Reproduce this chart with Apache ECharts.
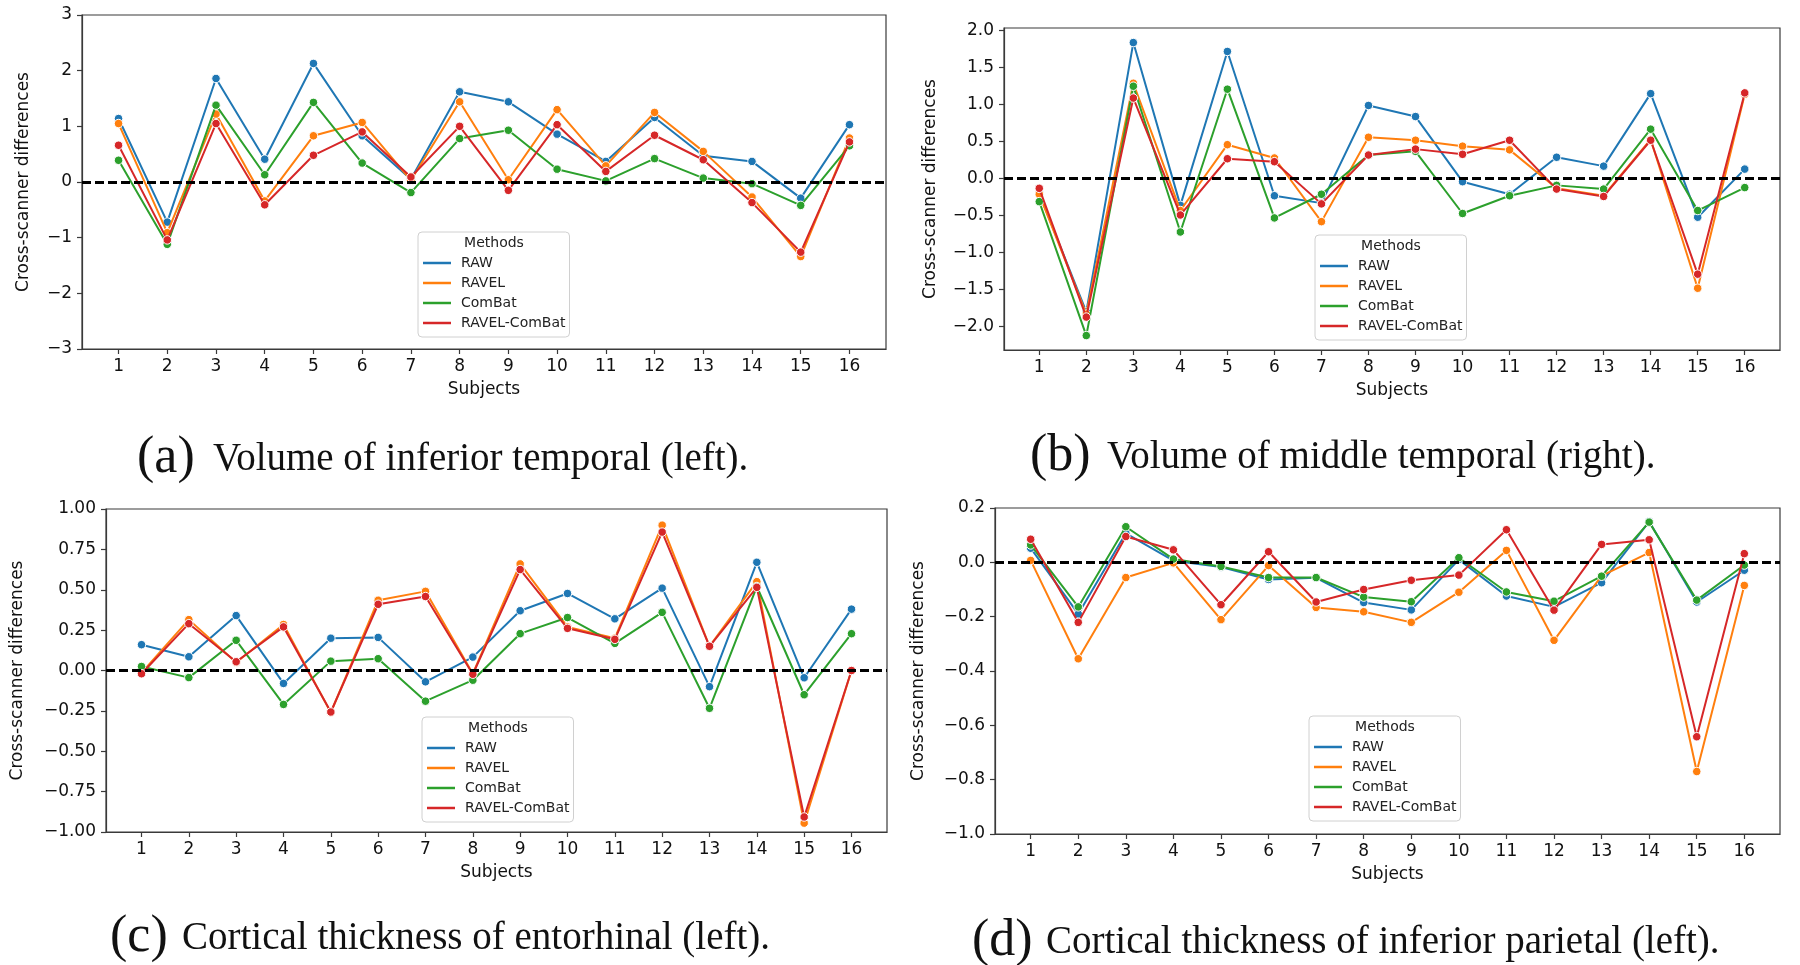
<!DOCTYPE html>
<html>
<head>
<meta charset="utf-8">
<script src="https://cdn.jsdelivr.net/npm/echarts@6/dist/echarts.min.js"></script>
<style>
html,body{margin:0;padding:0;background:#fff;}
#chart{width:1800px;height:965px;}
</style>
</head>
<body>
<div id="chart"></div>
<script>
// ---------- data ----------
const subjects = [1,2,3,4,5,6,7,8,9,10,11,12,13,14,15,16];
const methods = ['RAW','RAVEL','ComBat','RAVEL-ComBat'];
const colors = ['#1f77b4','#ff7f0e','#2ca02c','#d62728'];

// (a) Volume of inferior temporal (left)
const a_RAW         = [1.14,-0.72,1.86,0.41,2.13,0.83,0.05,1.62,1.44,0.86,0.37,1.16,0.47,0.37,-0.29,1.03];
const a_RAVEL       = [1.05,-0.91,1.22,-0.34,0.83,1.07,0.03,1.44,0.04,1.30,0.29,1.25,0.55,-0.27,-1.34,0.79];
const a_ComBat      = [0.39,-1.12,1.38,0.13,1.43,0.34,-0.19,0.78,0.93,0.23,0.02,0.42,0.07,-0.03,-0.42,0.65];
const a_RAVELComBat = [0.66,-1.04,1.05,-0.41,0.48,0.90,0.09,1.00,-0.15,1.03,0.19,0.84,0.40,-0.37,-1.26,0.72];
const a_ticks = [-3,-2,-1,0,1,2,3];

// (b) Volume of middle temporal (right)
const b_RAW         = [-0.20,-1.80,1.84,-0.36,1.72,-0.23,-0.33,0.99,0.84,-0.04,-0.21,0.29,0.17,1.15,-0.52,0.13];
const b_RAVEL       = [-0.21,-1.83,1.29,-0.43,0.46,0.28,-0.58,0.56,0.52,0.44,0.39,-0.13,-0.23,0.53,-1.48,1.14];
const b_ComBat      = [-0.31,-2.12,1.25,-0.72,1.21,-0.53,-0.21,0.32,0.37,-0.47,-0.23,-0.09,-0.14,0.67,-0.43,-0.12];
const b_RAVELComBat = [-0.13,-1.87,1.09,-0.49,0.27,0.23,-0.34,0.32,0.40,0.33,0.52,-0.14,-0.24,0.52,-1.29,1.16];
const b_ticks = [-2.0,-1.5,-1.0,-0.5,0.0,0.5,1.0,1.5,2.0];

// (c) Cortical thickness of entorhinal (left)
const c_RAW         = [0.16,0.085,0.34,-0.08,0.20,0.205,-0.07,0.083,0.37,0.477,0.32,0.51,-0.10,0.67,-0.045,0.38];
const c_RAVEL       = [-0.015,0.315,0.05,0.285,-0.26,0.435,0.49,-0.02,0.66,0.27,0.20,0.90,0.15,0.55,-0.945,0.0];
const c_ComBat      = [0.025,-0.044,0.187,-0.21,0.058,0.073,-0.19,-0.06,0.228,0.328,0.168,0.36,-0.234,0.52,-0.15,0.228];
const c_RAVELComBat = [-0.02,0.29,0.054,0.27,-0.257,0.41,0.458,-0.023,0.625,0.261,0.193,0.857,0.15,0.515,-0.907,0.0];
const c_ticks = [-1.0,-0.75,-0.5,-0.25,0.0,0.25,0.5,0.75,1.0];

// (d) Cortical thickness of inferior parietal (left)
const d_RAW         = [0.052,-0.19,0.107,0.006,-0.017,-0.063,-0.057,-0.148,-0.175,0.01,-0.124,-0.164,-0.075,0.15,-0.146,-0.029];
const d_RAVEL       = [0.007,-0.355,-0.056,-0.002,-0.211,-0.012,-0.166,-0.182,-0.221,-0.11,0.044,-0.287,-0.05,0.036,-0.77,-0.085];
const d_ComBat      = [0.064,-0.164,0.131,0.012,-0.015,-0.056,-0.056,-0.128,-0.145,0.017,-0.109,-0.143,-0.051,0.148,-0.139,-0.01];
const d_RAVELComBat = [0.085,-0.221,0.095,0.046,-0.156,0.039,-0.146,-0.1,-0.066,-0.047,0.12,-0.176,0.066,0.083,-0.642,0.032];
const d_ticks = [-1.0,-0.8,-0.6,-0.4,-0.2,0.0,0.2];

const captionLabels = ['(a)','(b)','(c)','(d)'];
const captionTexts = [
  'Volume of inferior temporal (left).',
  'Volume of middle temporal (right).',
  'Cortical thickness of entorhinal (left).',
  'Cortical thickness of inferior parietal (left).'
];

// ---------- layout ----------
const panels = [
  {grid:{left:82, top:15, width:804, height:334}, y:[-3,3], ticks:a_ticks, dec:0, data:[a_RAW,a_RAVEL,a_ComBat,a_RAVELComBat], nameGap:50,
   legend:{left:418, top:232}, cap:{lx:137, tx:213, y:458}},
  {grid:{left:1004, top:28, width:776, height:322}, y:[-2.315,2.037], ticks:b_ticks, dec:1, data:[b_RAW,b_RAVEL,b_ComBat,b_RAVELComBat], nameGap:65,
   legend:{left:1315, top:235}, cap:{lx:1030, tx:1107, y:456}},
  {grid:{left:106, top:509, width:781, height:323}, y:[-1,1], ticks:c_ticks, dec:2, data:[c_RAW,c_RAVEL,c_ComBat,c_RAVELComBat], nameGap:80,
   legend:{left:422, top:717}, cap:{lx:110, tx:182, y:937}},
  {grid:{left:995, top:508, width:785, height:326}, y:[-1,0.2], ticks:d_ticks, dec:1, data:[d_RAW,d_RAVEL,d_ComBat,d_RAVELComBat], nameGap:68,
   legend:{left:1309, top:716}, cap:{lx:972, tx:1046, y:941}}
];

const axisColor = '#3a3a3a';
const tickFont = {fontFamily:'DejaVu Sans', fontSize:17, color:'#111'};
const fmt = (v,dec) => { let s = Number(v).toFixed(dec); if (Number(s) === 0) s = (0).toFixed(dec); return s.replace('-', '\u2212'); };

const option = {
  animation:false,
  backgroundColor:'#fff',
  grid:[], xAxis:[], yAxis:[], series:[], legend:[], graphic:[]
};

panels.forEach((p,i) => {
  option.grid.push(Object.assign({show:true, borderColor:axisColor, borderWidth:1.2, backgroundColor:'#fff', containLabel:false, outerBoundsMode:'none'}, p.grid));
  option.xAxis.push({
    type:'value', gridIndex:i, min:0.25, max:16.75,
    name:'Subjects', nameLocation:'middle', nameGap:32,
    nameTextStyle:{fontFamily:'DejaVu Sans', fontSize:17, color:'#111'},
    axisLine:{show:true, onZero:false, lineStyle:{color:axisColor, width:1.2}},
    axisTick:{show:true, length:5, lineStyle:{color:axisColor, width:1.2}, customValues:subjects},
    axisLabel:Object.assign({margin:9, customValues:subjects, formatter:v=>String(v)}, tickFont),
    splitLine:{show:false}
  });
  option.yAxis.push({
    type:'value', gridIndex:i, min:p.y[0], max:p.y[1],
    name:'Cross-scanner differences', nameLocation:'middle', nameGap:p.nameGap,
    nameTextStyle:{fontFamily:'DejaVu Sans', fontSize:17, color:'#111'},
    axisLine:{show:true, onZero:false, lineStyle:{color:axisColor, width:1.2}},
    axisTick:{show:true, length:5, lineStyle:{color:axisColor, width:1.2}, customValues:p.ticks},
    axisLabel:Object.assign({margin:10, customValues:p.ticks, formatter:v=>fmt(v,p.dec)}, tickFont),
    splitLine:{show:false}
  });
  p.data.forEach((vals,k) => {
    option.series.push({
      type:'line', name:methods[k], xAxisIndex:i, yAxisIndex:i,
      data: subjects.map((s,j)=>[s, vals[j]]),
      symbol:'circle', symbolSize:8.5, showSymbol:true,
      lineStyle:{color:colors[k], width:2},
      itemStyle:{color:colors[k], borderColor:'#fff', borderWidth:1},
      emphasis:{disabled:true}, z:2+k*0.01
    });
  });
  // zero reference line
  option.series.push({
    type:'line', xAxisIndex:i, yAxisIndex:i, data:[], silent:true, z:5,
    markLine:{silent:true, symbol:'none', label:{show:false}, animation:false,
      lineStyle:{color:'#000', width:2.8, type:[9,4]}, data:[{yAxis:0}]}
  });
  option.legend.push({
    left:p.legend.left, top:p.legend.top, orient:'vertical', data:methods,
    icon:'rect', itemWidth:28, itemHeight:2.5, itemGap:6,
    itemStyle:{borderWidth:0},
    textStyle:{fontFamily:'DejaVu Sans', fontSize:14, color:'#222', lineHeight:14, padding:[0,0,0,5]},
    backgroundColor:'rgba(255,255,255,0.85)', borderColor:'#d0d0d0', borderWidth:1, borderRadius:4,
    padding:[24,4,7,5], selectedMode:false, z:10
  });
  option.graphic.push({
    type:'text', z:100, x:p.legend.left + 76, y:p.legend.top + 11,
    style:{text:'Methods', font:'14px "DejaVu Sans"', fill:'#222', textAlign:'center', textVerticalAlign:'middle'}
  });
  option.graphic.push({
    type:'text', z:100, x:p.cap.lx, y:p.cap.y,
    style:{text:captionLabels[i], font:'52px "Liberation Serif"', fill:'#111', textAlign:'left', textVerticalAlign:'middle'}
  });
  option.graphic.push({
    type:'text', z:100, x:p.cap.tx, y:p.cap.y+2,
    style:{text:captionTexts[i], font:'39px "Liberation Serif"', fill:'#111', textAlign:'left', textVerticalAlign:'middle'}
  });
});

const chart = echarts.init(document.getElementById('chart'), null, {renderer:'canvas'});
chart.setOption(option);
</script>
</body>
</html>
